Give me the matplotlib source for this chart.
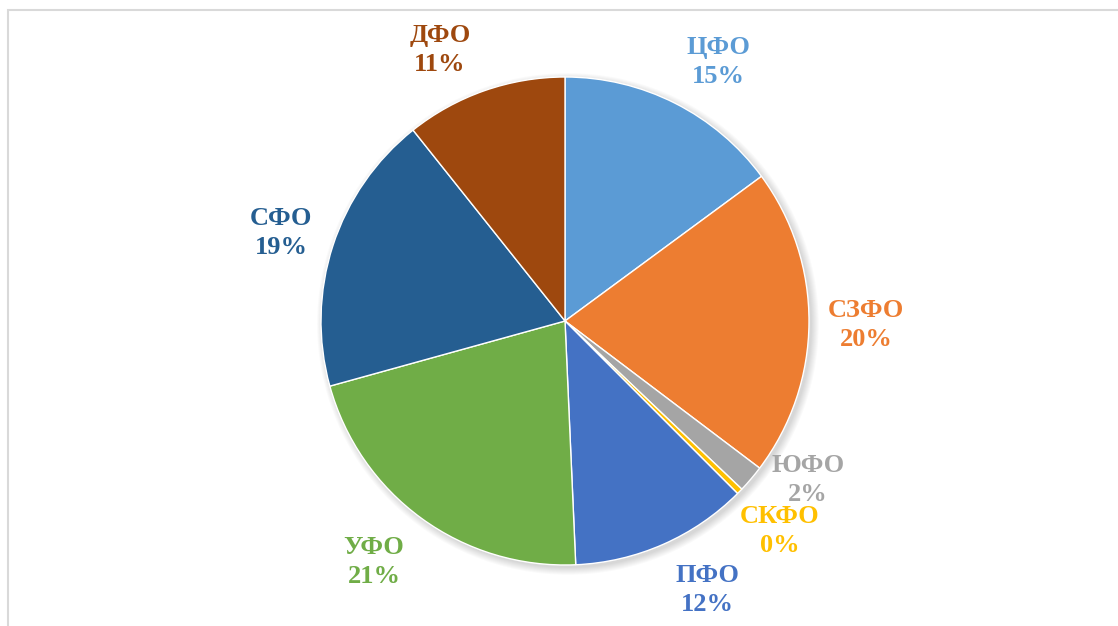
import numpy as np
import matplotlib
matplotlib.use("Agg")
import matplotlib.pyplot as plt
from matplotlib.patches import Circle, Rectangle

# Share of each federal district, %
districts = ["ЦФО", "СЗФО", "ЮФО", "СКФО", "ПФО", "УФО", "СФО", "ДФО"]
shares = [14.9, 20.4, 1.8, 0.4, 11.8, 21.4, 18.6, 10.7]
colors = ["#5B9BD5", "#ED7D31", "#A5A5A5", "#FFC000",
          "#4472C4", "#70AD47", "#255E91", "#9E480E"]

# label centres, in units of the pie radius
label_pos = [(0.627, 1.061), (1.234, -0.016), (0.996, -0.652), (0.881, -0.861),
             (0.582, -1.102), (-0.783, -0.988), (-1.164, 0.361), (-0.512, 1.111)]

W, H = 1118, 626
fig = plt.figure(figsize=(W / 100, H / 100), dpi=100)
fig.patch.set_facecolor("white")

# light chart border (runs off the right and bottom edges)
fig.patches.append(Rectangle((7.5 / W, -0.05), 1.2, 1 - 10.5 / H + 0.05,
                             transform=fig.transFigure, fill=False,
                             edgecolor="#D9D9D9", linewidth=1.5))

cx, cy, r = 565, 321, 244
ax = fig.add_axes([(cx - r) / W, (H - cy - r) / H, 2 * r / W, 2 * r / H])

# soft shadow under the pie
for k in range(8):
    ax.add_patch(Circle((0.012, -0.012), 1.0 + 0.004 * k, color="black",
                        alpha=0.018, linewidth=0, zorder=0, clip_on=False))

wedges, _ = ax.pie(shares, colors=colors, startangle=90, counterclock=False,
                   radius=1, center=(0, 0),
                   wedgeprops=dict(edgecolor="white", linewidth=1))
for w in wedges:
    w.set_zorder(2)
    w.set_clip_on(False)

ax.set_xlim(-1, 1)
ax.set_ylim(-1, 1)
ax.set_aspect("equal")
ax.axis("off")

for name, val, col, (lx, ly) in zip(districts, shares, colors, label_pos):
    ax.text(lx, ly, f"{name}\n{val:.0f}%", color=col, ha="center", va="center",
            family="Liberation Serif", fontweight="bold", fontsize=19,
            linespacing=1.3, clip_on=False, zorder=3)

fig.savefig("out.png", dpi=100)
